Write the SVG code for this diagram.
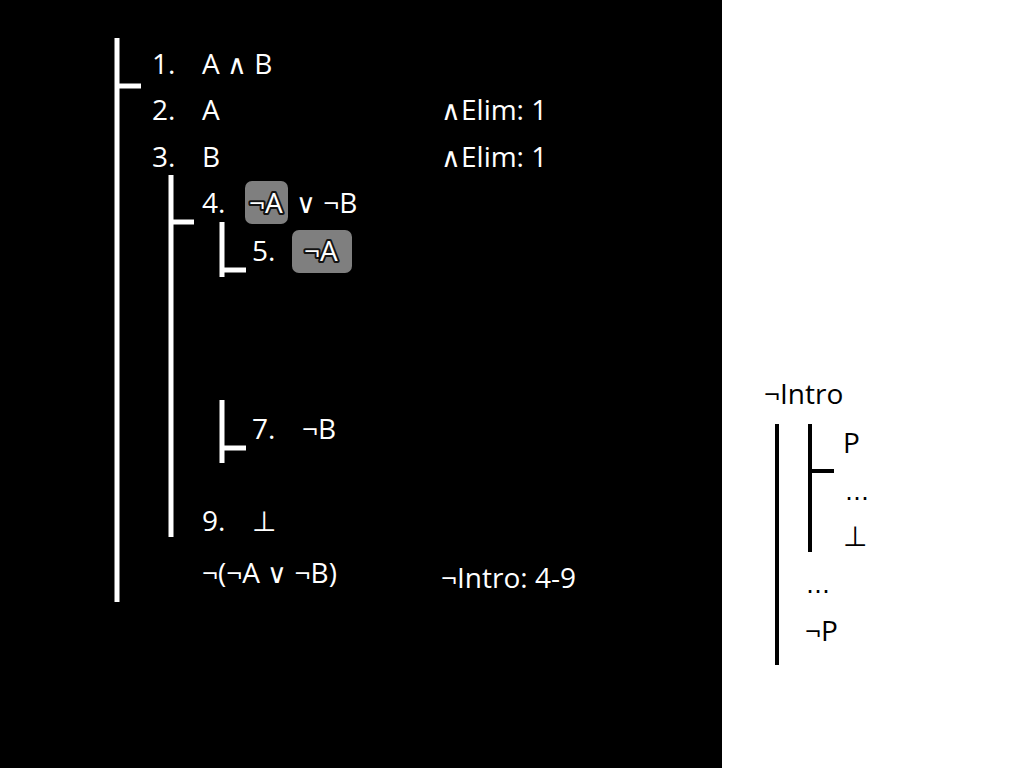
<svg xmlns="http://www.w3.org/2000/svg" width="1024" height="768" viewBox="0 0 1024 768">
<style>
text{font-family:"Open Sans","Noto Sans","DejaVu Sans",sans-serif;font-size:28px;fill:#fff}
.k{fill:#000}
.op{font-family:"DejaVu Sans",sans-serif;font-weight:200;font-size:27px}
.hl{fill:#fff;stroke:#000;stroke-opacity:0.85;stroke-width:4;paint-order:stroke;stroke-linejoin:round}
.bw{stroke:#fff;stroke-width:5;fill:none}
.bk{stroke:#000;stroke-width:4;fill:none}
.box{fill:#7f7f7f}
.el{font-family:"DejaVu Sans",sans-serif;font-size:24px}
</style>
<rect x="0" y="0" width="1024" height="768" fill="#fff"/>
<rect x="0" y="0" width="722" height="768" fill="#000"/>
<g id="connectors">
<path class="bw" d="M117,38V602M117,86H141"/>
<path class="bw" d="M171,175V537M171,222H194"/>
<path class="bw" d="M222,222V277M222,270H246"/>
<path class="bw" d="M222,400V463M222,448H246"/>
<path class="bk" d="M777,424V665"/>
<path class="bk" d="M810,424V552M810,471H834"/>
</g>
<g id="line1"><text x="152" y="74">1.</text><text x="202" y="74">A <tspan class="op">∧</tspan> B</text></g>
<g id="line2"><text x="152" y="120">2.</text><text x="202" y="120">A</text><text x="441" y="120"><tspan class="op">∧</tspan>Elim: 1</text></g>
<g id="line3"><text x="152" y="167">3.</text><text x="202" y="167">B</text><text x="441" y="167"><tspan class="op">∧</tspan>Elim: 1</text></g>
<g id="line4"><rect class="box" x="245" y="181" width="43" height="43" rx="7"/><text x="202" y="213">4.</text><text x="249" y="213" class="hl">¬A</text><text x="296" y="213"><tspan class="op">∨</tspan> ¬B</text></g>
<g id="line5"><rect class="box" x="292" y="230" width="60" height="43" rx="7"/><text x="252" y="261">5.</text><text x="304" y="261" class="hl">¬A</text></g>
<g id="line7"><text x="252" y="439">7.</text><text x="302" y="439">¬B</text></g>
<g id="line9"><text x="202" y="531">9.</text><text x="252" y="531">⊥</text></g>
<g id="conclusion"><text x="202" y="583">¬(¬A <tspan class="op">∨</tspan> ¬B)</text><text x="441" y="588">¬Intro: 4-9</text></g>
<g id="legend">
<text class="k" x="764" y="404">¬Intro</text>
<text class="k" x="843" y="453">P</text>
<text class="k el" x="845" y="500">…</text>
<text class="k" x="843" y="546">⊥</text>
<text class="k el" x="806" y="593">…</text>
<text class="k" x="805" y="641">¬P</text>
</g>
</svg>
